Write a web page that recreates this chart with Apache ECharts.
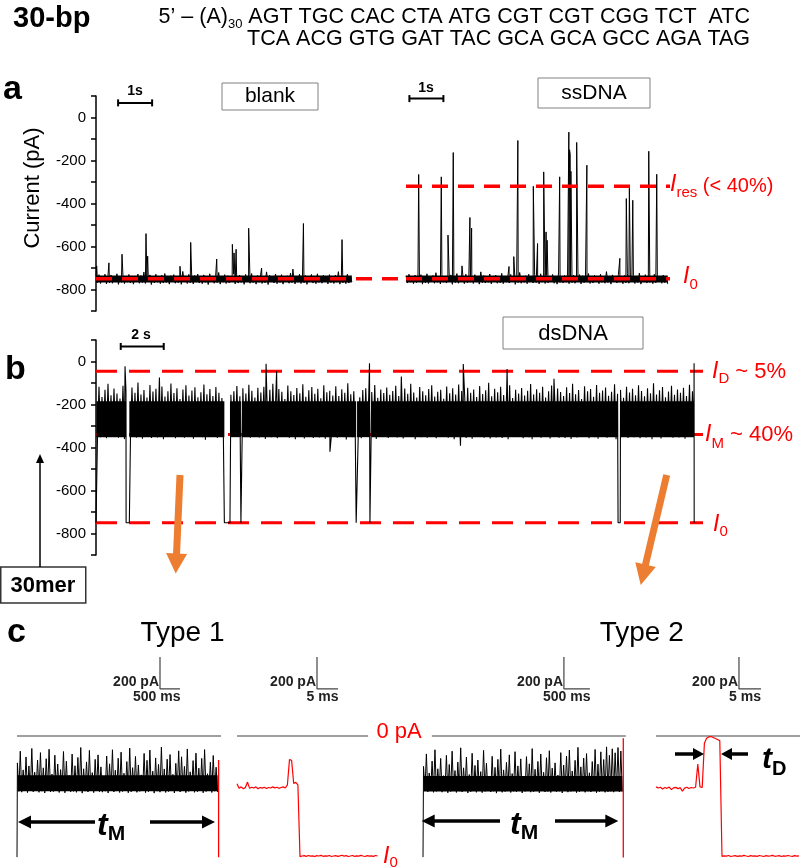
<!DOCTYPE html>
<html><head><meta charset="utf-8">
<script src="https://cdn.jsdelivr.net/npm/echarts@6/dist/echarts.min.js"></script>
<style>html,body{margin:0;padding:0;background:#fff}#c{width:800px;height:868px}</style>
</head><body><div id="c"></div>
<script>
// ================= DATA =================
// y-axis tick labels (pA) for panels a and b
const yTickLabels = [0, -200, -400, -600, -800];

// Panel a – blank: current samples (pA), sampling step in s
const blankDt = 0.044;
const blankNoise = [
-738,-768,-731,-772,-742,-765,-729,-774,-736,-769,
-733,-771,-745,-763,-727,-776,-739,-767,-734,-773,
-741,-766,-730,-770,-737,-775,-744,-764,-728,-771,
-735,-768,-719,-772,-740,-765,-732,-777,-738,-769,
-729,-766,-743,-773,-734,-770,-726,-767,-739,-775,
-736,-764,-731,-771,-742,-768,-733,-776,-716,-765,
-737,-772,-730,-769,-745,-774,-735,-766,-728,-770,
-740,-773,-732,-767,-738,-777,-727,-764,-743,-771,
-734,-768,-721,-775,-739,-766,-731,-772,-736,-769,
-744,-765,-729,-774,-737,-770,-733,-767,-741,-776,
-730,-763,-738,-771,-726,-768,-742,-775,-735,-766,
-732,-772,-739,-769,-718,-777,-734,-764,-743,-770,
-728,-773,-737,-767,-731,-775,-740,-765,-736,-771,
-724,-768,-733,-774,-745,-766,-729,-772,-738,-769,
-735,-776,-741,-763,-730,-770,-737,-773,-727,-767,
-742,-771,-734,-765,-739,-774,-731,-768,-744,-772,
-733,-766,-717,-775,-736,-769,-740,-773,-729,-770,
-738,-764];
// short events [time s, current pA]
const blankSpikes = [[0.02,-690],[0.38,-676],[0.765,-636],[1.47,-540],[1.52,-645],[2.47,-692],[2.785,-581],[3.55,-658],[4.01,-590],[4.06,-630],[4.12,-613],[4.49,-515],[4.87,-700],[5.79,-705],[6.10,-493],[7.235,-568]];
// dense part of the open-pore noise band [low, high] (pA)
const blankCore = [-767, -735];

// Panel a – ssDNA
const ssDt = 0.044;
const ssNoise = [
-736,-770,-729,-766,-741,-773,-733,-768,-745,-764,
-731,-775,-738,-769,-727,-772,-743,-765,-735,-771,
-722,-767,-740,-774,-730,-766,-737,-770,-744,-763,
-732,-776,-739,-768,-726,-771,-742,-765,-734,-773,
-729,-769,-746,-766,-736,-772,-731,-764,-740,-775,
-718,-768,-735,-770,-743,-767,-728,-774,-738,-765,
-733,-771,-741,-769,-725,-773,-737,-766,-744,-770,
-730,-764,-739,-776,-734,-768,-721,-771,-742,-767,
-736,-773,-729,-765,-745,-770,-732,-768,-740,-774,
-727,-766,-738,-772,-734,-769,-743,-764,-730,-771,
-737,-775,-723,-767,-741,-770,-735,-766,-728,-773,
-744,-768,-733,-771,-739,-765,-731,-774,-736,-769,
-742,-766,-726,-772,-738,-770,-734,-764,-745,-773,
-729,-767,-740,-771,-717,-768,-737,-775,-732,-765,
-743,-770,-730,-766,-739,-773,-735,-769,-727,-771,
-741,-764,-734,-772,-738,-768,-724,-775,-744,-766,
-731,-770,-737,-767,-742,-773,-729,-769,-736,-765,
-740,-771,-733,-768,-745,-774];
const ssSpikes = [[0.373,-265],[1.038,-276],[1.235,-547],[1.39,-163],[1.647,-690],[1.88,-465],[1.93,-515],[3.03,-693],[3.17,-647],[3.29,-107],[3.745,-320],[3.87,-586],[4.05,-253],[4.12,-532],[4.15,-571],[4.52,-276],[4.79,-68],[4.81,-150],[4.83,-171],[4.85,-250],[5.02,-116],[5.32,-222],[6.29,-655],[6.48,-377],[6.57,-329],[6.67,-385],[7.14,-157],[7.375,-264]];
const ssCore = [-767, -735];
const levelI0 = -750;
const levelIres = -320;

// Panel b – dsDNA (alternating upper / lower excursions of the I_M noise band)
const dsDt = 0.0697;
const dsNoise = [
-142,-348,-118,-352,-165,-341,-131,-357,-104,-345,
-157,-350,-126,-338,-149,-355,-172,-346,-113,-361,
-137,-343,-160,-351,-121,-337,-145,-354,-98,-347,
-154,-359,-133,-342,-168,-349,-109,-356,-140,-340,
-127,-353,-151,-346,-116,-362,-163,-339,-138,-350,
-102,-344,-147,-357,-124,-348,-175,-341,-130,-355,
-111,-351,-158,-343,-135,-359,-120,-346,-166,-336,
-143,-352,-107,-364,-152,-345,-128,-349,-161,-340,
-119,-356,-146,-343,-170,-353,-132,-347,-100,-358,
-155,-338,-139,-350,-114,-344,-162,-361,-125,-349,
-149,-342,-108,-355,-136,-348,-167,-337,-122,-353,
-144,-346,-117,-360,-159,-341,-131,-352,-103,-345,
-153,-357,-128,-343,-141,-350,-174,-339,-112,-354,
-138,-347,-156,-362,-123,-344,-148,-351,-106,-358,
-164,-340,-134,-349,-119,-356,-150,-342,-127,-353,
-171,-345,-110,-359,-143,-338,-136,-350,-158,-346,
-115,-355,-161,-341,-129,-348,-145,-363,-101,-343,
-152,-352,-139,-347,-118,-339,-166,-357,-133,-349,
-124,-344,-157,-354,-142,-346,-109,-360,-169,-341,
-130,-351,-147,-343,-121,-356,-155,-348,-137,-337,
-113,-353,-160,-345,-135,-358,-126,-342,-150,-350,
-104,-347,-144,-361,-168,-344,-119,-352,-139,-339,
-157,-355,-128,-348,-111,-343,-163,-357,-141,-346,
-132,-350,-173,-340,-116,-354,-148,-349,-125,-362,
-154,-344,-107,-352,-137,-338,-159,-356,-122,-347,
-146,-359,-130,-345,-165,-351,-114,-343,-151,-355,
-134,-341,-99,-358,-162,-348,-127,-353,-143,-340,
-118,-356,-156,-346,-140,-362,-110,-344,-170,-350,
-131,-347,-149,-339,-123,-357,-158,-345,-136,-352,
-105,-361,-153,-343,-129,-350,-145,-355,-117,-346,
-167,-342,-138,-358,-112,-349,-155,-341,-126,-354,
-142,-348,-161,-356,-120,-343,-147,-360,-103,-347,
-152,-353,-133,-340,-174,-351,-115,-346,-139,-357,
-128,-344,-164,-352,-109,-359,-146,-342,-135,-349,
-121,-355,-159,-347,-141,-338,-106,-361,-150,-345,
-132,-350,-169,-343,-118,-356,-144,-348,-127,-352,
-157,-341,-111,-357,-137,-346,-162,-353,-124,-339,
-148,-362,-101,-345,-153,-350,-134,-358,-119,-344,
-166,-349,-140,-340,-113,-355,-155,-347,-130,-353,
-145,-346,-122,-359,-160,-342,-108,-351,-138,-348];
const dsSpikes = [[1.35,-22],[2.95,-75],[7.91,-10],[8.40,-45],[10.88,-420],[12.72,-8],[14.2,-70],[16.95,-392],[17.08,-12],[19.12,-35],[21.3,-80],[27.815,-8]];
// full blockades back to I0: [start s, end s]
const dsBlocks = [[0,0.02],[1.40,1.55],[5.97,6.23],[6.74,6.78],[12.10,12.14],[12.74,12.80],[24.28,24.38],[27.82,27.84]];
const dsCore = [-352, -185];
const levelID = -45;
const levelIM = -340;

// Panel c – Type 1 long trace (s) and zoomed end (ms)
const c1Dt = 0.036;
const c1Noise = [
-168,-346,-95,-351,-212,-340,-131,-354,-187,-343,
-78,-349,-226,-338,-150,-352,-104,-345,-199,-356,
-142,-341,-83,-350,-238,-347,-120,-339,-175,-353,
-210,-344,-97,-355,-158,-342,-246,-349,-113,-346,
-186,-352,-134,-340,-72,-357,-205,-345,-162,-350,
-90,-343,-229,-354,-146,-339,-118,-348,-193,-351,
-252,-345,-125,-356,-174,-341,-86,-350,-214,-344,
-139,-353,-101,-347,-233,-340,-160,-355,-76,-349,
-198,-342,-128,-352,-181,-346,-243,-338,-109,-354,
-152,-348,-88,-341,-220,-357,-137,-345,-178,-351,
-69,-343,-206,-353,-145,-347,-116,-340,-240,-356,
-171,-344,-93,-350,-130,-342,-190,-354,-81,-346,
-224,-339,-154,-352,-107,-348,-201,-343,-140,-355,
-85,-347,-236,-341,-164,-353,-122,-345,-195,-350];
const c1Entry = [[0,-757]];
const c1Exit = [[5.04,-150],[5.04,-758]];
const c1Core = [-346, -245];
const c2Dt = 0.5;
const c2Trace = [
-298,-326,-318,-330,-322,-288,-327,-320,-325,-318,
-330,-322,-326,-320,-328,-322,-325,-318,-324,-320,
-327,-322,-318,-325,-306,-147,-152,-296,-290,-305,
-754,-750,-748,-752,-747,-751,-749,-753,-748,-750,
-746,-752,-749,-751,-747,-753,-750,-748,-752,-749,
-745,-751,-748,-753,-750,-747,-752,-749,-751,-746,
-750,-753,-748,-751,-749,-752,-747,-750];

// Panel c – Type 2 long trace (s) and zoomed end (ms)
const c3Dt = 0.0275;
const c3Noise = [
-190,-343,-112,-349,-231,-340,-157,-352,-86,-346,
-205,-338,-140,-351,-248,-344,-121,-355,-178,-347,
-95,-341,-216,-353,-163,-345,-74,-350,-199,-342,
-132,-356,-241,-348,-108,-343,-184,-352,-150,-339,
-223,-354,-90,-346,-170,-341,-257,-350,-127,-345,
-196,-357,-146,-343,-82,-352,-212,-347,-165,-340,
-118,-353,-235,-345,-98,-349,-187,-342,-143,-356,
-250,-346,-129,-340,-174,-351,-79,-348,-208,-344,
-159,-355,-113,-342,-227,-350,-136,-347,-92,-353,
-201,-341,-168,-349,-244,-345,-104,-356,-182,-343,
-125,-351,-88,-346,-219,-340,-152,-354,-71,-348,
-193,-343,-138,-352,-110,-345,-230,-350,-160,-341,
-84,-355,-176,-347,-99,-344,-147,-352,-68,-349,
-121,-346,-80,-351,-105,-343,-72,-350,-94,-348];
const c3Entry = [[0,-757]];
const c3Exit = [[3.852,-14],[3.852,-760]];
const c3Core = [-347, -250];
const c4Dt = 0.5;
const c4Trace = [
-318,-325,-320,-331,-322,-327,-319,-335,-324,-321,
-329,-323,-345,-326,-320,-328,-322,-325,-320,-175,
-318,-322,-45,-14,-6,-3,-9,-16,-22,-30,
-752,-749,-751,-747,-753,-750,-748,-752,-749,-751,
-746,-750,-753,-748,-751,-749,-752,-747,-750,-753,
-748,-751,-749,-746,-752,-750,-748,-753,-749,-751,
-747,-750,-752,-748,-751,-749];

// scale-bar lengths
const barTimeA = 1;      // s
const barTimeB = 2;      // s
const barCurrentC = 200; // pA
const barTimeLong = 0.5; // s (500 ms)
const barTimeZoom = 5;   // ms

// ================= BUILD =================
const FAM = '"Liberation Sans", Arial, Helvetica, sans-serif';
const RED = '#ff0000';

function trace(dt, t0, samples, spikes, blocks, blockLevel) {
  let pts = samples.map((v, i) => [+(t0 + i * dt).toFixed(5), v]);
  if (blocks) {
    pts = pts.filter(p => !blocks.some(b => p[0] >= b[0] && p[0] <= b[1]));
    blocks.forEach(b => { pts.push([b[0], blockLevel]); pts.push([b[1], blockLevel]); });
  }
  if (spikes) pts = pts.concat(spikes);
  pts.sort((a, b) => a[0] - b[0]);
  return pts;
}
// time segments covered by noise (outside blockades)
function segments(dt, t0, samples, blocks) {
  const tEnd = t0 + (samples.length - 1) * dt;
  const segs = [];
  let s = t0;
  (blocks || []).forEach(b => { if (b[0] > s) segs.push([s, Math.min(b[0], tEnd)]); s = Math.max(s, b[1]); });
  if (s < tEnd) segs.push([s, tEnd]);
  return segs;
}
function coreArea(segs, core) {
  return {silent: true, z: 1, itemStyle: {color: '#000', opacity: 1},
    data: segs.map(s => [{xAxis: s[0], yAxis: core[0]}, {xAxis: s[1], yAxis: core[1]}])};
}

const grids = [
  {left: 96, top: 96, width: 304, height: 215},
  {left: 406, top: 96, width: 264, height: 215},
  {left: 96, top: 340, width: 607, height: 215},
  {left: 17, top: 656, width: 204, height: 208},
  {left: 237, top: 656, width: 143, height: 208},
  {left: 423, top: 656, width: 203, height: 208},
  {left: 656, top: 656, width: 144, height: 208}
];
const xr = [[0, 8.94], [0, 7.765], [0, 28.23], [0, 5.1], [0, 34.05], [0, 3.904], [0, 32.73]];
const xAxes = grids.map((g, i) => ({type: 'value', gridIndex: i, min: xr[i][0], max: xr[i][1], show: false}));
function visibleY(i) {
  return {
    type: 'value', gridIndex: i, min: -900, max: 100, interval: 100,
    axisLine: {show: true, lineStyle: {color: '#000', width: 1.5}},
    axisTick: {show: true, length: 5, lineStyle: {color: '#000', width: 1.5}},
    axisLabel: {margin: 10, fontSize: 15, color: '#000', fontFamily: FAM,
      formatter: v => (yTickLabels.indexOf(v) >= 0 ? String(v) : '')},
    splitLine: {show: false}
  };
}
const yAxes = [
  visibleY(0),
  {type: 'value', gridIndex: 1, min: -900, max: 100, show: false},
  visibleY(2),
  {type: 'value', gridIndex: 3, min: -800, max: 500, show: false},
  {type: 'value', gridIndex: 4, min: -800, max: 500, show: false},
  {type: 'value', gridIndex: 5, min: -800, max: 500, show: false},
  {type: 'value', gridIndex: 6, min: -800, max: 500, show: false}
];

function L(i, data, color, width, z, extra) {
  return Object.assign({
    type: 'line', xAxisIndex: i, yAxisIndex: i, data: data, symbol: 'none', showSymbol: false,
    lineStyle: {color: color, width: width}, z: z, animation: false, silent: true
  }, extra || {});
}
function ref(i, level, dash, width, z) {
  return L(i, [[xr[i][0], level], [xr[i][1], level]], RED, width, z, {lineStyle: {color: RED, width: width, type: dash}});
}
function hbar(i, t, y, len) {
  return L(i, [[t, y], [t + len, y]], '#000', 2, 10, {symbol: 'rect', showSymbol: true, symbolSize: [2, 7], itemStyle: {color: '#000'}});
}
function lbar(i, t, y, hLen) {
  return L(i, [[t, y + barCurrentC], [t, y], [t + hLen, y]], '#444', 1.2, 10);
}

const series = [
  L(0, trace(blankDt, 0, blankNoise, blankSpikes), '#000', 1, 2, {markArea: coreArea(segments(blankDt, 0, blankNoise), blankCore)}),
  ref(0, levelI0, [16, 10], 3.5, 5),
  hbar(0, 0.65, 68, barTimeA),
  L(1, trace(ssDt, 0, ssNoise, ssSpikes), '#000', 1, 2, {markArea: coreArea(segments(ssDt, 0, ssNoise), ssCore)}),
  ref(1, levelI0, [16, 10], 3.5, 5),
  ref(1, levelIres, [16, 10], 3.5, 5),
  hbar(1, 0.1, 88, barTimeA),
  ref(2, levelID, [21, 12], 3, 0),
  ref(2, levelIM, [21, 12], 3, 0),
  ref(2, levelI0, [21, 12], 3, 0),
  L(2, trace(dsDt, 0, dsNoise, dsSpikes, dsBlocks, levelI0), '#000', 1.1, 2, {markArea: coreArea(segments(dsDt, 0, dsNoise, dsBlocks), dsCore)}),
  hbar(2, 1.15, 70, barTimeB),
  // panel c
  L(3, [[0, 0], [5.1, 0]], '#808080', 1.5, 1),
  L(3, trace(c1Dt, 0.01, c1Noise, c1Entry), '#000', 1, 2, {markArea: coreArea(segments(c1Dt, 0.01, c1Noise), c1Core)}),
  L(3, c1Exit, RED, 1.3, 3),
  lbar(3, 3.575, 294, barTimeLong),
  L(4, [[0, 0], [31.2, 0]], '#808080', 1.5, 1),
  L(4, trace(c2Dt, 0, c2Trace), RED, 1.2, 2),
  lbar(4, 19.05, 294, barTimeZoom),
  L(5, [[0.17, 0], [3.9, 0]], '#808080', 1.5, 1),
  L(5, trace(c3Dt, 0.01, c3Noise, c3Entry), '#000', 1, 2, {markArea: coreArea(segments(c3Dt, 0.01, c3Noise), c3Core)}),
  L(5, c3Exit, RED, 1.3, 3),
  lbar(5, 2.71, 294, barTimeLong),
  L(6, [[0, 0], [32.73, 0]], '#808080', 1.5, 1),
  L(6, trace(c4Dt, 0, c4Trace), RED, 1.2, 2),
  lbar(6, 18.86, 294, barTimeZoom)
];

// ---------- annotations ----------
const mc = document.createElement('canvas').getContext('2d');
function fontStr(p) { return (p.st || 'normal') + ' ' + (p.wt || 'normal') + ' ' + p.fs + 'px ' + FAM; }
function tw(p) { mc.font = fontStr(p); return mc.measureText(p.t).width; }
function P(x, base, parts, align) {
  const ws = parts.map(tw);
  const total = ws.reduce((a, b) => a + b, 0);
  let cx = align === 'right' ? x - total : (align === 'center' ? x - total / 2 : x);
  return parts.map((p, i) => {
    const el = {type: 'text', x: cx, y: base + (p.dy || 0) - 0.35 * p.fs, z: 100, silent: true,
      style: {text: p.t, fontSize: p.fs, fontWeight: p.wt || 'normal', fontStyle: p.st || 'normal',
        fontFamily: FAM, fill: p.fill || '#000', align: 'left', verticalAlign: 'middle'}};
    cx += ws[i];
    return el;
  });
}
function box(x, y, w, h, stroke, lw) {
  return {type: 'rect', z: 99, silent: true, shape: {x: x, y: y, width: w, height: h},
    style: {fill: '#fff', stroke: stroke, lineWidth: lw}};
}
function arrow(x1, y1, x2, y2, color, w, hl, hw) {
  const dx = x2 - x1, dy = y2 - y1, len = Math.hypot(dx, dy), ux = dx / len, uy = dy / len;
  const bx = x2 - ux * hl, by = y2 - uy * hl, px = -uy, py = ux;
  return [
    {type: 'line', z: 100, silent: true, shape: {x1: x1, y1: y1, x2: bx + ux, y2: by + uy}, style: {stroke: color, lineWidth: w}},
    {type: 'polygon', z: 100, silent: true, shape: {points: [[x2, y2], [bx + px * hw, by + py * hw], [bx - px * hw, by - py * hw]]}, style: {fill: color}}
  ];
}
const SEQ = 21.5;
let G = [];
G = G.concat(
  P(13, 29, [{t: '30-bp', fs: 29, wt: 'bold'}]),
  P(750, 25, [{t: '5\u2019 \u2013 (A)', fs: SEQ}, {t: '30', fs: 13, dy: 4}, {t: ' AGT TGC CAC CTA ATG CGT CGT CGG TCT  ATC', fs: SEQ}], 'right'),
  P(750, 46.5, [{t: 'TCA ACG GTG GAT TAC GCA GCA GCC AGA TAG', fs: SEQ}], 'right'),
  P(3, 102, [{t: 'a', fs: 34, wt: 'bold'}]),
  P(5, 382, [{t: 'b', fs: 34, wt: 'bold'}]),
  P(7, 645, [{t: 'c', fs: 34, wt: 'bold'}]),
  [{type: 'text', x: 33, y: 188, rotation: Math.PI / 2, z: 100, silent: true,
    style: {text: 'Current (pA)', fontSize: 22, fontFamily: FAM, fill: '#000', align: 'center', verticalAlign: 'middle'}}],
  [box(222, 83, 96, 27, '#808080', 1), box(538, 78, 112, 30, '#808080', 1), box(503, 317, 140, 32, '#808080', 1), box(0.75, 567, 85, 36, '#333', 1.5)],
  P(270, 103.3, [{t: 'blank', fs: 21}], 'center'),
  P(594, 101, [{t: 'ssDNA', fs: 21}], 'center'),
  P(573, 341.5, [{t: 'dsDNA', fs: 22}], 'center'),
  P(43, 594, [{t: '30mer', fs: 22, wt: 'bold'}], 'center'),
  P(135, 96.5, [{t: '1s', fs: 14, wt: 'bold'}], 'center'),
  P(426, 93, [{t: '1s', fs: 14, wt: 'bold'}], 'center'),
  P(141, 340.5, [{t: '2 s', fs: 14, wt: 'bold'}], 'center'),
  // red level labels
  P(670, 193, [{t: 'I', fs: 23, st: 'italic', fill: RED}, {t: 'res', fs: 15, dy: 5, fill: RED}, {t: ' (< 40%)', fs: 20, fill: RED}]),
  P(683, 285, [{t: 'I', fs: 23, st: 'italic', fill: RED}, {t: '0', fs: 15, dy: 5, fill: RED}]),
  P(712, 380, [{t: 'I', fs: 23, st: 'italic', fill: RED}, {t: 'D', fs: 15, dy: 4, fill: RED}, {t: ' ~ 5%', fs: 22, fill: RED}]),
  P(705, 443, [{t: 'I', fs: 23, st: 'italic', fill: RED}, {t: 'M', fs: 15, dy: 6, fill: RED}, {t: ' ~ 40%', fs: 22, fill: RED}]),
  P(713, 533, [{t: 'I', fs: 23, st: 'italic', fill: RED}, {t: '0', fs: 15, dy: 4, fill: RED}]),
  P(376.5, 740, [{t: '0 pA', fs: 22, fill: RED}]),
  P(383, 865, [{t: 'I', fs: 23, st: 'italic', fill: RED}, {t: '0', fs: 15, dy: 3, fill: RED}]),
  // panel c titles and scale-bar text
  P(182.5, 643, [{t: 'Type 1', fs: 28}], 'center'),
  P(641.7, 643, [{t: 'Type 2', fs: 28}], 'center'),
  P(159, 687, [{t: '200 pA', fs: 14, wt: 'bold', fill: '#222'}], 'right'),
  P(180.5, 702, [{t: '500 ms', fs: 14, wt: 'bold', fill: '#222'}], 'right'),
  P(316, 687, [{t: '200 pA', fs: 14, wt: 'bold', fill: '#222'}], 'right'),
  P(338.5, 702, [{t: '5 ms', fs: 14, wt: 'bold', fill: '#222'}], 'right'),
  P(563, 687, [{t: '200 pA', fs: 14, wt: 'bold', fill: '#222'}], 'right'),
  P(590.5, 702, [{t: '500 ms', fs: 14, wt: 'bold', fill: '#222'}], 'right'),
  P(738, 687, [{t: '200 pA', fs: 14, wt: 'bold', fill: '#222'}], 'right'),
  P(761, 702, [{t: '5 ms', fs: 14, wt: 'bold', fill: '#222'}], 'right'),
  // durations
  P(97, 837, [{t: 't', fs: 32, wt: 'bold', st: 'italic'}, {t: 'M', fs: 21, wt: 'bold', dy: 5}]),
  P(510, 836, [{t: 't', fs: 32, wt: 'bold', st: 'italic'}, {t: 'M', fs: 21, wt: 'bold', dy: 5}]),
  P(762, 770, [{t: 't', fs: 30, wt: 'bold', st: 'italic'}, {t: 'D', fs: 20, wt: 'bold', dy: 6}]),
  arrow(95, 822, 18, 822, '#000', 3.5, 13, 6.5),
  arrow(150, 822, 215, 822, '#000', 3.5, 13, 6.5),
  arrow(500, 821, 421.7, 821, '#000', 3.5, 13, 6.5),
  arrow(555, 821, 618.3, 821, '#000', 3.5, 13, 6.5),
  arrow(675, 754, 704, 754, '#000', 3.5, 11, 6),
  arrow(748, 754, 721, 754, '#000', 3.5, 11, 6),
  // 30mer arrow and orange arrows
  arrow(40, 567, 40, 454, '#000', 1.5, 9, 4),
  arrow(180, 475, 175.7, 573.5, '#ED7D31', 7, 20, 10.5),
  arrow(666.7, 475, 640.7, 585, '#ED7D31', 7, 21, 10.5)
);

const chart = echarts.init(document.getElementById('c'), null, {renderer: 'canvas', width: 800, height: 868});
chart.setOption({
  backgroundColor: '#fff',
  animation: false,
  grid: grids,
  xAxis: xAxes,
  yAxis: yAxes,
  series: series,
  graphic: {elements: G}
});
</script>
</body></html>
